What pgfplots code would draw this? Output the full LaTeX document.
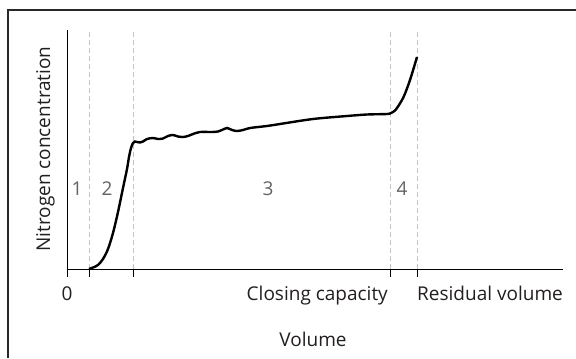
\documentclass[border=0pt]{standalone}
\usepackage{pgfplots}
\pgfplotsset{compat=1.18}
\usepackage{fontspec}
\setmainfont{Open Sans}
\definecolor{dashgray}{RGB}{195,195,195}
\definecolor{numgray}{RGB}{100,100,100}
\definecolor{framegray}{RGB}{40,40,40}
\definecolor{txt}{RGB}{35,31,32}
\begin{document}
\begin{tikzpicture}[x=1bp,y=1bp]
\useasboundingbox (0,0) rectangle (576,358);
\fill[white] (0,0) rectangle (576,358);
\draw[framegray, line width=1.5bp] (8,0) -- (8,348) -- (576,348);
\begin{axis}[
  at={(67bp,89bp)}, anchor=south west,
  scale only axis, width=496bp, height=239bp,
  xmin=0, xmax=496, ymin=0, ymax=239,
  axis lines=left, axis line style={-, black, line width=0.9bp},
  xtick={0,22,66,323,350}, xticklabels={},
  ytick=\empty,
  tick align=outside, major tick length=8bp,
  tick style={black, line width=0.9bp},
  clip=false,
]
\addplot[dashgray, line width=0.9bp, dash pattern=on 5bp off 3bp] coordinates {(22,0) (22,239)};
\addplot[dashgray, line width=0.9bp, dash pattern=on 5bp off 3bp] coordinates {(66,0) (66,239)};
\addplot[dashgray, line width=0.9bp, dash pattern=on 5bp off 3bp] coordinates {(323,0) (323,239)};
\addplot[dashgray, line width=0.9bp, dash pattern=on 5bp off 3bp] coordinates {(350,0) (350,239)};
\addplot[black, line width=2.4bp, smooth, tension=0.5] coordinates {
(22,0) (26,1.5) (31,4) (36,10) (41,20) (46,36) (51,57) (56,81) (60,100) (62,112) (64,121) (66,126)
(68,127.5) (70,127) (73,126.5) (76,127.5) (80,130) (86,131) (91,130) (96,130.5) (101,133) (106,134)
(111,132.5) (116,132) (121,133) (126,135) (133,137) (145,137) (151,137.5) (155,139) (160,141)
(165,139) (170,138) (176,139) (183,141) (200,143) (213,145) (246,150) (280,153) (300,154.5)
(320,155) (324,156) (328,158.5) (332,164) (337,173) (343,189) (350,212)};
\node[anchor=base, txt, font=\fontsize{19bp}{22bp}\selectfont] at ([yshift=-31bp]axis cs:0,0) {0};
\node[anchor=base east, txt, inner xsep=0pt, font=\fontsize{19bp}{22bp}\selectfont] at ([yshift=-31bp]axis cs:321,0) {Closing capacity};
\node[anchor=base west, txt, inner xsep=0pt, font=\fontsize{19bp}{22bp}\selectfont] at ([yshift=-31bp]axis cs:350,0) {Residual volume};
\node[anchor=base, txt, font=\fontsize{19bp}{22bp}\selectfont] at ([yshift=-77bp]axis cs:246,0) {Volume};
\node[anchor=base, txt, rotate=90, font=\fontsize{19bp}{22bp}\selectfont] at ([xshift=-17bp]axis cs:0,120) {Nitrogen concentration};
\node[anchor=base, numgray, font=\fontsize{19bp}{22bp}\selectfont] at (axis cs:10,74) {1};
\node[anchor=base, numgray, font=\fontsize{19bp}{22bp}\selectfont] at (axis cs:40,74) {2};
\node[anchor=base, numgray, font=\fontsize{19bp}{22bp}\selectfont] at (axis cs:201,74) {3};
\node[anchor=base, numgray, font=\fontsize{19bp}{22bp}\selectfont] at (axis cs:335,74) {4};
\end{axis}
\end{tikzpicture}
\end{document}
